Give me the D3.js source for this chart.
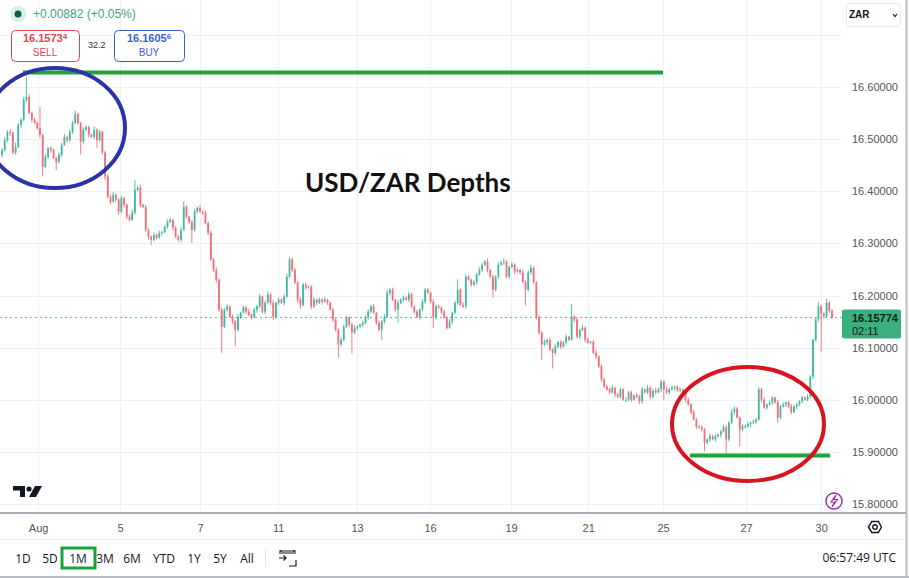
<!DOCTYPE html>
<html>
<head>
<meta charset="utf-8">
<script src="https://cdnjs.cloudflare.com/ajax/libs/d3/7.8.5/d3.min.js"></script>
<style>
    body { margin: 0; background: #fff; }
    svg { display: block; font-family: "Liberation Sans", Arial, sans-serif; }
</style>
</head>
<body>
<svg id="chart" width="909" height="578"></svg>
<script>
// USD/ZAR hourly closes (Aug 1 - Aug 30)
var firstOpen = 16.470;

var closesA = [16.479, 16.498, 16.514, 16.512, 16.474, 16.485, 16.527, 16.537, 16.575, 16.581,
    16.550, 16.537, 16.531, 16.521, 16.508, 16.447, 16.466, 16.483, 16.479, 16.464,
    16.456, 16.470, 16.489, 16.504, 16.498, 16.514, 16.531, 16.548, 16.531, 16.495,
    16.518, 16.523, 16.508, 16.504, 16.518, 16.498, 16.514, 16.474, 16.428, 16.389,
    16.380, 16.393, 16.384, 16.361, 16.387, 16.374, 16.351, 16.345, 16.359, 16.403,
    16.407, 16.374, 16.370, 16.326, 16.313, 16.307, 16.316, 16.311, 16.320, 16.322,
    16.332, 16.341, 16.345, 16.330, 16.313, 16.307, 16.326, 16.370, 16.351, 16.341,
    16.326, 16.361, 16.368, 16.361, 16.359, 16.339, 16.320];

var closesB = [16.269, 16.249, 16.230, 16.173, 16.140, 16.173, 16.179, 16.159, 16.150, 16.134,
    16.159, 16.167, 16.177, 16.169, 16.163, 16.158, 16.173, 16.179, 16.198, 16.169,
    16.186, 16.202, 16.186, 16.159, 16.186, 16.192, 16.186, 16.198, 16.236, 16.269,
    16.249, 16.225, 16.192, 16.182, 16.221, 16.215, 16.217, 16.179, 16.192, 16.186,
    16.192, 16.188, 16.192, 16.186, 16.173, 16.154, 16.134, 16.106, 16.115, 16.140,
    16.158, 16.144, 16.129, 16.138, 16.140, 16.144, 16.148, 16.158, 16.169];

var closesC = [16.179, 16.167, 16.148, 16.134, 16.150, 16.159, 16.205, 16.211, 16.192, 16.173,
    16.186, 16.192, 16.196, 16.192, 16.202, 16.179, 16.169, 16.159, 16.173, 16.188,
    16.211, 16.205, 16.188, 16.158, 16.179, 16.177, 16.169, 16.158, 16.138, 16.150,
    16.167, 16.186, 16.211, 16.182, 16.179, 16.236, 16.230, 16.221, 16.226, 16.240,
    16.249, 16.259, 16.265, 16.249, 16.236, 16.211, 16.236, 16.259, 16.263, 16.265,
    16.236, 16.255, 16.259, 16.246, 16.249, 16.244, 16.226, 16.211, 16.244, 16.253,
    16.225, 16.159, 16.129, 16.106, 16.110, 16.115, 16.096, 16.090, 16.102, 16.111,
    16.102, 16.110, 16.121, 16.115, 16.159, 16.154, 16.121, 16.134, 16.138, 16.115,
    16.110, 16.111, 16.090, 16.083, 16.064, 16.039, 16.025];

var closesD = [16.020, 16.014, 16.023, 16.010, 16.006, 16.020, 16.000, 16.000, 16.014, 16.000,
    16.008, 16.006, 15.997, 16.020, 16.014, 16.023, 16.006, 16.017, 16.014, 16.020,
    16.035, 16.020, 16.014, 16.020, 16.023, 16.025, 16.018, 16.020, 16.014, 16.000,
    15.991, 15.976, 15.962, 15.949, 15.947, 15.943, 15.918, 15.924, 15.930, 15.924,
    15.930, 15.933, 15.939, 15.947, 15.924, 15.956, 15.976, 15.983, 15.966, 15.943,
    15.949, 15.949, 15.953, 15.956, 15.958, 15.962, 16.020, 16.000, 15.985, 15.991,
    15.995, 16.004, 15.995, 15.966, 15.987, 15.991, 15.995, 15.987, 15.976, 15.987,
    15.991, 15.997, 16.004, 16.000, 16.006, 16.044, 16.115, 16.154, 16.179, 16.165,
    16.160, 16.186, 16.171, 16.158];

// wick lengths beyond the body, in 0.001
var wickUpA = [4, 6, 3, 5, 2, 8, 4, 3, 6, 39, 5, 3, 4, 2, 41, 3, 5, 2, 4, 3, 2, 5, 4, 6, 3, 5, 4, 7, 3, 2,
    5, 4, 3, 2, 6, 3, 4, 2, 3, 5, 4, 6, 3, 2, 5, 3, 2, 4, 6, 19, 3, 5, 2, 4, 3, 2, 5, 3, 4, 2,
    3, 5, 4, 2, 3, 4, 6, 10, 3, 2, 4, 5, 3, 6, 2, 4, 3];
var wickDnA = [5, 3, 4, 6, 3, 4, 2, 5, 3, 4, 3, 5, 2, 4, 6, 19, 3, 4, 5, 2, 15, 3, 4, 2, 5, 3, 4, 2, 3, 25,
    4, 3, 5, 2, 4, 15, 3, 4, 6, 3, 5, 2, 4, 6, 3, 5, 4, 3, 2, 4, 3, 5, 2, 4, 6, 10, 3, 4, 2, 5,
    3, 4, 2, 6, 3, 4, 5, 2, 3, 4, 25, 3, 4, 2, 5, 3, 4];
var wickUpB = [4, 3, 5, 2, 4, 3, 5, 2, 4, 3, 5, 2, 4, 3, 6, 2, 4, 3, 5, 2, 4, 6, 3, 5, 2, 4, 3, 5, 6, 5,
    3, 4, 2, 5, 3, 4, 2, 3, 5, 2, 4, 3, 5, 2, 3, 4, 2, 3, 5, 4, 3, 2, 4, 5, 3, 2, 4, 3, 5];
var wickDnB = [3, 4, 6, 5, 50, 3, 4, 2, 5, 32, 3, 4, 2, 5, 3, 4, 2, 6, 3, 4, 5, 2, 4, 6, 3, 4, 2, 5, 3, 2,
    4, 3, 6, 8, 3, 4, 2, 5, 3, 4, 2, 5, 3, 4, 2, 5, 3, 25, 4, 3, 2, 5, 40, 3, 4, 2, 5, 3, 4];
var wickUpC = [3, 5, 2, 4, 3, 5, 6, 3, 4, 2, 5, 3, 4, 2, 5, 3, 2, 4, 3, 5, 4, 3, 2, 5, 4, 3, 2, 4, 3, 5,
    2, 4, 20, 3, 5, 4, 3, 2, 4, 3, 5, 4, 3, 6, 2, 4, 3, 5, 4, 6, 3, 2, 5, 3, 4, 2, 5, 3, 4, 6,
    3, 2, 4, 3, 5, 2, 4, 3, 5, 2, 4, 3, 5, 2, 25, 3, 4, 2, 5, 3, 4, 2, 3, 5, 2, 4, 3];
var wickDnC = [4, 2, 5, 3, 19, 4, 2, 5, 3, 4, 25, 3, 4, 2, 5, 3, 4, 2, 5, 3, 4, 2, 3, 20, 4, 2, 5, 3, 4, 2,
    5, 3, 4, 2, 3, 5, 2, 4, 3, 5, 2, 4, 3, 5, 2, 15, 3, 4, 2, 5, 3, 4, 2, 5, 3, 4, 2, 30, 3, 4,
    2, 5, 4, 30, 3, 5, 2, 30, 4, 3, 5, 2, 4, 3, 2, 5, 3, 4, 2, 5, 3, 4, 2, 5, 3, 4, 2];
var wickUpD = [4, 3, 5, 2, 4, 3, 2, 5, 3, 4, 2, 5, 3, 4, 2, 5, 3, 4, 6, 3, 4, 2, 5, 3, 4, 2, 3, 4, 2, 3,
    4, 2, 5, 3, 2, 4, 3, 2, 5, 3, 4, 2, 3, 5, 4, 3, 6, 4, 3, 2, 4, 3, 5, 2, 4, 3, 4, 3, 5, 2,
    4, 3, 2, 5, 3, 4, 2, 3, 5, 4, 3, 2, 4, 3, 5, 3, 2, 4, 8, 4, 3, 8, 4, 3];
var wickDnD = [3, 4, 2, 5, 3, 4, 2, 5, 3, 4, 2, 3, 5, 4, 2, 3, 5, 3, 4, 2, 5, 20, 3, 4, 2, 5, 3, 4, 2, 5,
    3, 4, 2, 5, 3, 4, 17, 3, 5, 2, 4, 3, 5, 2, 29, 4, 3, 5, 2, 33, 3, 4, 2, 5, 3, 4, 2, 5, 3, 4,
    2, 5, 3, 10, 4, 2, 5, 3, 4, 2, 5, 3, 4, 2, 3, 4, 5, 3, 4, 73, 5, 3, 4, 3];

var priceTicks = [16.6, 16.5, 16.4, 16.3, 16.2, 16.1, 16.0, 15.9, 15.8];
var gridPrices = [16.7, 16.6, 16.5, 16.4, 16.3, 16.2, 16.1, 16.0, 15.9, 15.8];
var dayLabels = ["Aug", "5", "7", "11", "13", "16", "19", "21", "25", "27", "30"];
var dayIndex = [13.3, 43.5, 73, 101.8, 130.9, 157.8, 187.7, 216.1, 243.7, 274.3, 302];
var ranges = ["1D", "5D", "1M", "3M", "6M", "YTD", "1Y", "5Y", "All"];
var rangeX = [23, 50, 78, 105, 132, 164, 194, 220, 247];

var lastPrice = 16.15774;
var resistance = 16.628;
var support = 15.893;

var closes = closesA.concat(closesB, closesC, closesD);
var wUp = wickUpA.concat(wickUpB, wickUpC, wickUpD);
var wDn = wickDnA.concat(wickDnB, wickDnC, wickDnD);

var candles = closes.map(function (c, i) {
    var o = i === 0 ? firstOpen : closes[i - 1];
    return {
        i: i, o: o, c: c,
        h: Math.max(o, c) + (wUp[i] || 0) / 1000,
        l: Math.min(o, c) - (wDn[i] || 0) / 1000
    };
});

var svg = d3.select("#chart");

var x = d3.scaleLinear().domain([0, closes.length - 1]).range([2, 832]);
var y = d3.scaleLinear().domain([15.8, 16.6]).range([504, 87]);

var upColor = "#22ab94", downColor = "#f7525f";

// grid
svg.append("g").selectAll("line")
    .data(gridPrices)
    .enter()
    .append("line")
    .attr("x1", 0).attr("x2", 842)
    .attr("y1", function (d) { return Math.round(y(d)) + 0.5; })
    .attr("y2", function (d) { return Math.round(y(d)) + 0.5; })
    .attr("stroke", "#edf0f6");

svg.append("g").selectAll("line")
    .data(dayIndex)
    .enter()
    .append("line")
    .attr("x1", function (d) { return Math.round(x(d)) + 0.5; })
    .attr("x2", function (d) { return Math.round(x(d)) + 0.5; })
    .attr("y1", 0).attr("y2", 512)
    .attr("stroke", "#edf0f6");

// title
svg.append("text")
    .attr("x", 305).attr("y", 192)
    .attr("font-family", "Lato, 'Liberation Sans', sans-serif")
    .attr("font-weight", "bold")
    .attr("font-size", 26)
    .attr("fill", "#111")
    .text("USD/ZAR Depths");

// last price dotted line
svg.append("line")
    .attr("x1", 0).attr("x2", 842)
    .attr("y1", y(lastPrice)).attr("y2", y(lastPrice))
    .attr("stroke", "#5cc0a4")
    .attr("stroke-width", 1)
    .attr("stroke-dasharray", "2,3");

// candles
var cg = svg.append("g").attr("opacity", 0.85);
cg.selectAll("line")
    .data(candles)
    .enter()
    .append("line")
    .attr("x1", function (d) { return x(d.i); })
    .attr("x2", function (d) { return x(d.i); })
    .attr("y1", function (d) { return y(d.h); })
    .attr("y2", function (d) { return y(d.l); })
    .attr("stroke", function (d) { return d.c >= d.o ? upColor : downColor; })
    .attr("stroke-width", 0.9);

cg.selectAll("rect")
    .data(candles)
    .enter()
    .append("rect")
    .attr("x", function (d) { return x(d.i) - 0.9; })
    .attr("width", 1.8)
    .attr("y", function (d) { return y(Math.max(d.o, d.c)); })
    .attr("height", function (d) { return Math.max(1, Math.abs(y(d.o) - y(d.c))); })
    .attr("fill", function (d) { return d.c >= d.o ? upColor : downColor; });

// annotations
svg.append("line")
    .attr("x1", 23).attr("x2", 663)
    .attr("y1", y(resistance)).attr("y2", y(resistance))
    .attr("stroke", "#1fa33a").attr("stroke-width", 4);

svg.append("line")
    .attr("x1", 690).attr("x2", 830)
    .attr("y1", y(support)).attr("y2", y(support))
    .attr("stroke", "#1fa33a").attr("stroke-width", 4);

svg.append("ellipse")
    .attr("cx", 55).attr("cy", 128).attr("rx", 70).attr("ry", 60)
    .attr("fill", "none").attr("stroke", "#2b33a6").attr("stroke-width", 4);

svg.append("ellipse")
    .attr("cx", 748).attr("cy", 424).attr("rx", 76).attr("ry", 57)
    .attr("fill", "none").attr("stroke", "#d8141e").attr("stroke-width", 4);

// price axis
var yAxis = d3.axisRight(y)
    .tickValues(priceTicks)
    .tickSize(0)
    .tickPadding(0)
    .tickFormat(d3.format(".5f"));

svg.append("g")
    .attr("transform", "translate(852,0)")
    .call(yAxis)
    .call(function (g) { g.select(".domain").remove(); })
    .selectAll("text")
    .attr("font-family", "'Liberation Sans', sans-serif")
    .attr("font-size", 11)
    .attr("fill", "#555");

// last price tag
svg.append("rect")
    .attr("x", 842).attr("y", y(lastPrice) - 8)
    .attr("width", 59).attr("height", 29)
    .attr("rx", 2)
    .attr("fill", "#3bb07f");
svg.append("text")
    .attr("x", 852).attr("y", y(lastPrice) + 4)
    .attr("font-size", 11).attr("font-weight", "bold").attr("fill", "#0d1c14")
    .text(d3.format(".5f")(lastPrice));
svg.append("text")
    .attr("x", 852).attr("y", y(lastPrice) + 17)
    .attr("font-size", 11).attr("fill", "#0d1c14")
    .text("02:11");

// ZAR dropdown
svg.append("rect")
    .attr("x", 846.5).attr("y", 3.5).attr("width", 54).attr("height", 23).attr("rx", 3)
    .attr("fill", "#fff").attr("stroke", "#e6e8ee");
svg.append("text")
    .attr("x", 849).attr("y", 18)
    .attr("font-size", 10).attr("font-weight", "bold").attr("fill", "#131722")
    .text("ZAR");
svg.append("path")
    .attr("d", "M893,14 L895,16.5 L897,14")
    .attr("fill", "none").attr("stroke", "#131722").attr("stroke-width", 1.2);

// time axis
svg.append("line")
    .attr("x1", 0).attr("x2", 906).attr("y1", 513).attr("y2", 513)
    .attr("stroke", "#a9acb4").attr("stroke-width", 2);

var xAxis = d3.axisBottom(x)
    .tickValues(dayIndex)
    .tickSize(0)
    .tickPadding(0)
    .tickFormat(function (d, i) { return dayLabels[i]; });

svg.append("g")
    .attr("transform", "translate(0,524)")
    .call(xAxis)
    .call(function (g) { g.select(".domain").remove(); })
    .selectAll("text")
    .attr("font-family", "'Liberation Sans', sans-serif")
    .attr("font-size", 11)
    .attr("fill", "#555");

// gear
svg.append("path")
    .attr("d", d3.range(7).map(function (k) {
        var a = Math.PI / 3 * k;
        return (k === 0 ? "M" : "L") + (875 + 6.5 * Math.cos(a)).toFixed(1) + "," + (527 + 6.5 * Math.sin(a)).toFixed(1);
    }).join(""))
    .attr("fill", "none").attr("stroke", "#131722").attr("stroke-width", 1.5);
svg.append("circle")
    .attr("cx", 875).attr("cy", 527).attr("r", 2.2)
    .attr("fill", "none").attr("stroke", "#131722").attr("stroke-width", 1.4);

// lightning badge
svg.append("circle")
    .attr("cx", 834).attr("cy", 501).attr("r", 8)
    .attr("fill", "#fff").attr("stroke", "#9c27b0").attr("stroke-width", 1.4);
svg.append("path")
    .attr("d", "M836,495 L831,502 L834.5,502 L832,507 L837.5,499.5 L834,499.5 Z")
    .attr("fill", "none").attr("stroke", "#9c27b0").attr("stroke-width", 1.1);

// TV logo
var logo = svg.append("g").attr("fill", "#131722");
logo.append("path").attr("d", "M13,486 H25 V497 H20 V490.5 H13 Z");
logo.append("circle").attr("cx", 29).attr("cy", 489).attr("r", 2.6);
logo.append("path").attr("d", "M35,486 H42 L36,497 H29 Z");

// bottom toolbar
svg.append("line")
    .attr("x1", 0).attr("x2", 906).attr("y1", 539.5).attr("y2", 539.5)
    .attr("stroke", "#eef0f4");

svg.append("rect")
    .attr("x", 62).attr("y", 548).attr("width", 33).attr("height", 20)
    .attr("fill", "none").attr("stroke", "#18a33f").attr("stroke-width", 3);

svg.append("g").selectAll("text")
    .data(ranges)
    .enter()
    .append("text")
    .attr("x", function (d, i) { return rangeX[i]; })
    .attr("y", 563)
    .attr("text-anchor", "middle")
    .attr("font-family", "'Open Sans', sans-serif")
    .attr("font-size", 12)
    .attr("fill", "#131722")
    .text(function (d) { return d; });

svg.append("line")
    .attr("x1", 265.5).attr("x2", 265.5).attr("y1", 549).attr("y2", 567)
    .attr("stroke", "#e0e3eb");

var cal = svg.append("g").attr("fill", "none").attr("stroke", "#131722").attr("stroke-width", 1.2);
cal.append("path").attr("d", "M279,553 H296 M281,550 V552 M294,550 V552 M279,551 H296");
cal.append("path").attr("d", "M279,558 H286 M283.5,555.5 L286,558 L283.5,560.5");
cal.append("path").attr("d", "M289,566 H296 V560");

svg.append("text")
    .attr("x", 896).attr("y", 562)
    .attr("text-anchor", "end")
    .attr("font-family", "'Open Sans', sans-serif")
    .attr("font-size", 12)
    .attr("fill", "#131722")
    .text("06:57:49 UTC");

// frame edges
svg.append("line").attr("x1", 906.5).attr("x2", 906.5).attr("y1", 0).attr("y2", 578)
    .attr("stroke", "#b8bbc3").attr("stroke-width", 2);
svg.append("line").attr("x1", 0).attr("x2", 909).attr("y1", 577).attr("y2", 577)
    .attr("stroke", "#b8bbc3").attr("stroke-width", 2);

// header: change, sell / buy
svg.append("circle").attr("cx", 18).attr("cy", 14).attr("r", 8).attr("fill", "#d7efe8");
svg.append("circle").attr("cx", 18).attr("cy", 14).attr("r", 3.5).attr("fill", "#0b5e4a");
svg.append("text")
    .attr("x", 33).attr("y", 18)
    .attr("font-size", 12).attr("fill", "#3ea37f")
    .text("+0.00882 (+0.05%)");

function quoteBox(x0, w, color, big, small, label) {
    svg.append("rect")
        .attr("x", x0 + 0.5).attr("y", 30.5).attr("width", w).attr("height", 31).attr("rx", 4)
        .attr("fill", "#fff").attr("stroke", color);
    var t = svg.append("text")
        .attr("x", x0 + w / 2).attr("y", 42)
        .attr("text-anchor", "middle")
        .attr("font-size", 11).attr("font-weight", "bold").attr("fill", color);
    t.append("tspan").text(big);
    t.append("tspan").attr("font-size", 8).attr("dy", -3).text(small);
    svg.append("text")
        .attr("x", x0 + w / 2).attr("y", 56)
        .attr("text-anchor", "middle")
        .attr("font-size", 10).attr("fill", color)
        .text(label);
}
quoteBox(11, 68, "#e04652", "16.1573", "4", "SELL");
quoteBox(114, 70, "#3960d0", "16.1605", "6", "BUY");

svg.append("text")
    .attr("x", 88).attr("y", 48)
    .attr("font-size", 9).attr("fill", "#333")
    .text("32.2");
</script>
</body>
</html>
